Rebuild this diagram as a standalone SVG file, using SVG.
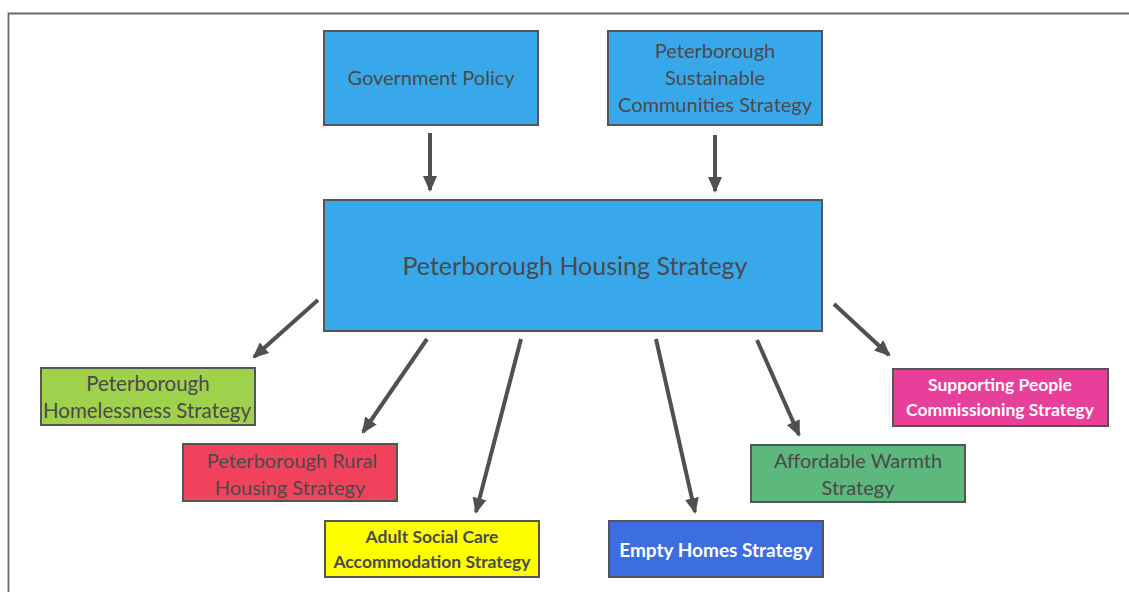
<svg xmlns="http://www.w3.org/2000/svg" width="1129" height="592" viewBox="0 0 1129 592">
<style>
.box{stroke:#555;stroke-width:2}
.t{font-family:Lato,"Liberation Sans",sans-serif;fill:#4a4a4a;text-anchor:middle;font-size:20px}
.b{font-weight:bold}
.w{fill:#ffffff}
.conn line{stroke:#505050;stroke-width:4;marker-end:url(#ah)}
</style>
<defs>
<marker id="ah" markerUnits="userSpaceOnUse" markerWidth="16" markerHeight="16" viewBox="0 0 16 16" refX="14" refY="8" orient="auto">
<path d="M0,1 L16,8 L0,15 Z" fill="#505050"/>
</marker>
</defs>
<rect x="0" y="0" width="1129" height="592" fill="#ffffff"/>
<path d="M8.5,600 V13.5 H1140" fill="none" stroke="#6a6a6a" stroke-width="1.8"/>
<g id="gov">
<rect class="box" x="324" y="31" width="214" height="94" fill="#39a8ea"/>
<text class="t" x="431" y="85">Government Policy</text>
</g>
<g id="sust">
<rect class="box" x="608" y="31" width="214" height="94" fill="#39a8ea"/>
<text class="t" x="715" y="58">Peterborough</text>
<text class="t" x="715" y="85">Sustainable</text>
<text class="t" x="715" y="112">Communities Strategy</text>
</g>
<g id="housing">
<rect class="box" x="324" y="200" width="498" height="131" fill="#39a8ea"/>
<text class="t" x="575" y="275" style="font-size:25px">Peterborough Housing Strategy</text>
</g>
<g id="homeless">
<rect class="box" x="41" y="368" width="214" height="57" fill="#9fd14c"/>
<text class="t" x="148" y="391" style="font-size:20.5px">Peterborough</text>
<text class="t" x="147" y="418" style="font-size:20.5px">Homelessness Strategy</text>
</g>
<g id="rural">
<rect class="box" x="183" y="444" width="214" height="57" fill="#f2435e"/>
<text class="t" x="292" y="468">Peterborough Rural</text>
<text class="t" x="290" y="495">Housing Strategy</text>
</g>
<g id="adult">
<rect class="box" x="325" y="521" width="214" height="56" fill="#ffff00"/>
<text class="t b" x="432" y="543" style="font-size:17.5px">Adult Social Care</text>
<text class="t b" x="432" y="568" style="font-size:17.5px">Accommodation Strategy</text>
</g>
<g id="empty">
<rect class="box" x="609" y="521" width="214" height="56" fill="#3c6ee0"/>
<text class="t b w" x="716" y="557" style="font-size:19px">Empty Homes Strategy</text>
</g>
<g id="warmth">
<rect class="box" x="751" y="445" width="214" height="57" fill="#5cb87c"/>
<text class="t" x="858" y="468">Affordable Warmth</text>
<text class="t" x="858" y="495">Strategy</text>
</g>
<g id="supporting">
<rect class="box" x="893" y="369" width="215" height="57" fill="#e8409a"/>
<text class="t b w" x="1000" y="391" style="font-size:17.5px">Supporting People</text>
<text class="t b w" x="1000" y="416" style="font-size:17.5px">Commissioning Strategy</text>
</g>
<g class="conn">
<line x1="430" y1="133" x2="430" y2="190"/>
<line x1="715" y1="135" x2="715" y2="191"/>
<line x1="318" y1="300" x2="254" y2="357"/>
<line x1="427" y1="339" x2="363" y2="432"/>
<line x1="521" y1="339" x2="476" y2="512"/>
<line x1="656" y1="339" x2="695" y2="512"/>
<line x1="757" y1="340" x2="799" y2="435"/>
<line x1="834" y1="304" x2="889" y2="355"/>
</g>
</svg>
